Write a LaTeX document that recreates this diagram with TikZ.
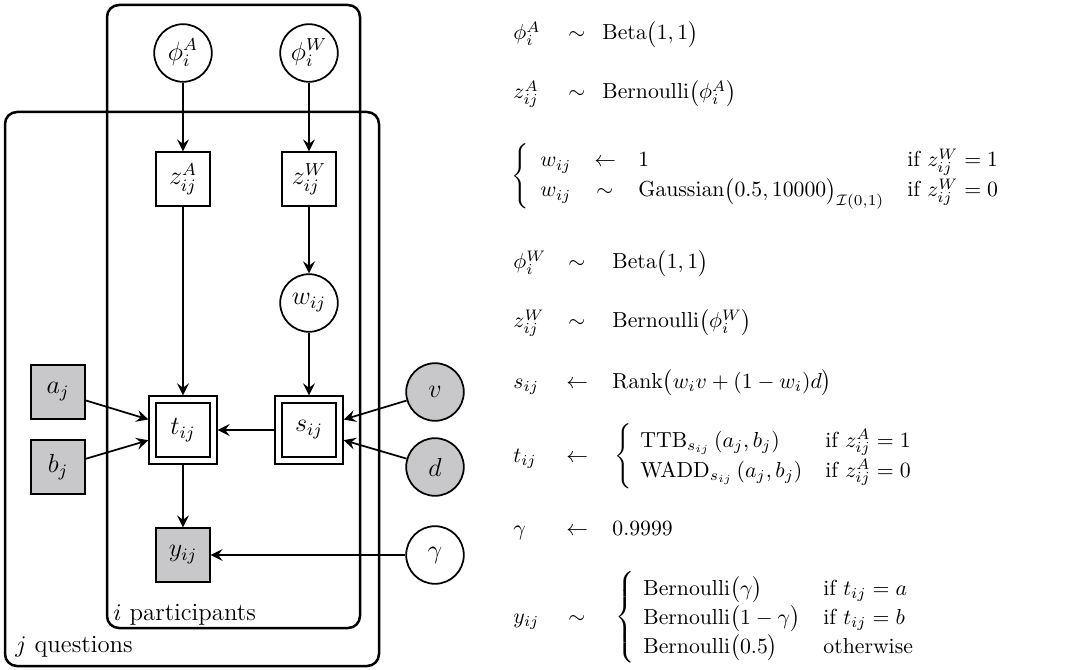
\documentclass[tikz,border=0pt]{standalone}
\usepackage{amsmath}
\usetikzlibrary{arrows.meta}
\begin{document}
\begin{tikzpicture}[x=0.46pt,y=-0.46pt,
  lat/.style={circle,draw,thick,minimum size=26.5pt,inner sep=0pt,font=\large},
  detbox/.style={rectangle,draw,thick,minimum size=24.6pt,inner sep=0pt,font=\large},
  dbl/.style={rectangle,draw,thick,double,double distance=2.3pt,minimum size=28pt,inner sep=0pt,outer sep=1.95pt,font=\large},
  obs/.style={fill=obsgray},
  edge/.style={thick,-{Stealth[length=5.5pt,width=5.5pt,inset=2pt]}},
  plate/.style={draw,line width=1.15pt,rounded corners=5.5pt},
  platelabel/.style={anchor=base west,inner sep=0pt,font=\fontsize{11.4}{13}\selectfont},
  eq/.style={anchor=base west,inner sep=0pt},
  brace/.style={anchor=west,inner sep=0pt}
]
\definecolor{obsgray}{RGB}{200,200,202}
\useasboundingbox (0,0) rectangle (1073,670);
% plates
\draw[plate] (107,5) rectangle (360,628);
\draw[plate] (5,112) rectangle (379,666);
\node[platelabel] (lblI) at (113,620) {$i$ participants};
\node[platelabel] (lblJ) at (15,652) {$j$ questions};
% nodes
\node[lat] (phiA) at (183,53) {$\phi_i^A$};
\node[lat] (phiW) at (309,53) {$\phi_i^W$};
\node[detbox] (zA) at (183,179) {$z_{ij}^A$};
\node[detbox] (zW) at (309,179) {$z_{ij}^W$};
\node[lat] (w) at (309,303) {$w_{ij}$};
\node[dbl] (t) at (183,430) {$t_{ij}$};
\node[dbl] (s) at (309,430) {$s_{ij}$};
\node[detbox,obs] (a) at (58,392) {$a_j$};
\node[detbox,obs] (b) at (58,467) {$b_j$};
\node[lat,obs] (v) at (435,392) {$v$};
\node[lat,obs] (d) at (435,467) {$d$};
\node[detbox,obs] (y) at (183,555) {$y_{ij}$};
\node[lat] (g) at (435,555) {$\gamma$};
% edges
\draw[edge] (phiA) -- (zA);
\draw[edge] (phiW) -- (zW);
\draw[edge] (zA) -- (t);
\draw[edge] (zW) -- (w);
\draw[edge] (w) -- (s);
\draw[edge] (s) -- (t);
\draw[edge] (a) -- (t);
\draw[edge] (b) -- (t);
\draw[edge] (v) -- (s);
\draw[edge] (d) -- (s);
\draw[edge] (t) -- (y);
\draw[edge] (g) -- (y);
% equations
\node[eq] (e1l) at (513,40) {$\phi_i^A$};
\node[eq] (e1m) at (568,40) {$\sim$};
\node[eq] (e1r) at (602,40) {$\mathrm{Beta}\bigl(1,1\bigr)$};
\node[eq] (e2l) at (513,99) {$z_{ij}^A$};
\node[eq] (e2m) at (568,99) {$\sim$};
\node[eq] (e2r) at (602,99) {$\mathrm{Bernoulli}\bigl(\phi_i^A\bigr)$};
\node[brace] (e3b) at (511,176) {$\left\{\vphantom{\renewcommand{\arraystretch}{1.15}\begin{array}{c}x\\x\end{array}}\right.$};
\node[eq] (e3l1) at (540,167) {$w_{ij}$};
\node[eq] (e3m1) at (594,167) {$\leftarrow$};
\node[eq] (e3r1) at (638,167) {$1$};
\node[eq] (e3c1) at (907,167) {if $z_{ij}^W=1$};
\node[eq] (e3l2) at (540,197) {$w_{ij}$};
\node[eq] (e3m2) at (596,197) {$\sim$};
\node[eq] (e3r2) at (638,197) {$\mathrm{Gaussian}\bigl(0.5,10000\bigr)_{\mathcal{I}(0,1)}$};
\node[eq] (e3c2) at (907,197) {if $z_{ij}^W=0$};
\node[eq] (e4l) at (513,269) {$\phi_i^W$};
\node[eq] (e4m) at (568,269) {$\sim$};
\node[eq] (e4r) at (612,269) {$\mathrm{Beta}\bigl(1,1\bigr)$};
\node[eq] (e5l) at (513,328) {$z_{ij}^W$};
\node[eq] (e5m) at (568,328) {$\sim$};
\node[eq] (e5r) at (612,328) {$\mathrm{Bernoulli}\bigl(\phi_i^W\bigr)$};
\node[eq] (e6l) at (513,388) {$s_{ij}$};
\node[eq] (e6m) at (566,388) {$\leftarrow$};
\node[eq] (e6r) at (612,388) {$\mathrm{Rank}\bigl(w_iv+(1-w_i)d\bigr)$};
\node[eq] (e7l) at (513,462) {$t_{ij}$};
\node[eq] (e7m) at (566,462) {$\leftarrow$};
\node[brace] (e7b) at (614,456) {$\left\{\vphantom{\renewcommand{\arraystretch}{1.15}\begin{array}{c}x\\x\end{array}}\right.$};
\node[eq] (e7r1) at (640,447) {$\mathrm{TTB}_{s_{ij}}\,(a_j,b_j)$};
\node[eq] (e7c1) at (825,447) {if $z_{ij}^A=1$};
\node[eq] (e7r2) at (640,477) {$\mathrm{WADD}_{s_{ij}}\,(a_j,b_j)$};
\node[eq] (e7c2) at (825,477) {if $z_{ij}^A=0$};
\node[eq] (e8l) at (513,535) {$\gamma$};
\node[eq] (e8m) at (566,535) {$\leftarrow$};
\node[eq] (e8r) at (612,535) {$0.9999$};
\node[eq] (e9l) at (513,623) {$y_{ij}$};
\node[eq] (e9m) at (568,623) {$\sim$};
\node[brace] (e9b) at (615,617) {$\left\{\vphantom{\renewcommand{\arraystretch}{1.15}\begin{array}{c}x\\x\\x\end{array}}\right.$};
\node[eq] (e9r1) at (643,595) {$\mathrm{Bernoulli}\bigl(\gamma\bigr)$};
\node[eq] (e9c1) at (823,595) {if $t_{ij}=a$};
\node[eq] (e9r2) at (643,624) {$\mathrm{Bernoulli}\bigl(1-\gamma\bigr)$};
\node[eq] (e9c2) at (823,624) {if $t_{ij}=b$};
\node[eq] (e9r3) at (643,653) {$\mathrm{Bernoulli}\bigl(0.5\bigr)$};
\node[eq] (e9c3) at (823,653) {otherwise};
\end{tikzpicture}
\end{document}
